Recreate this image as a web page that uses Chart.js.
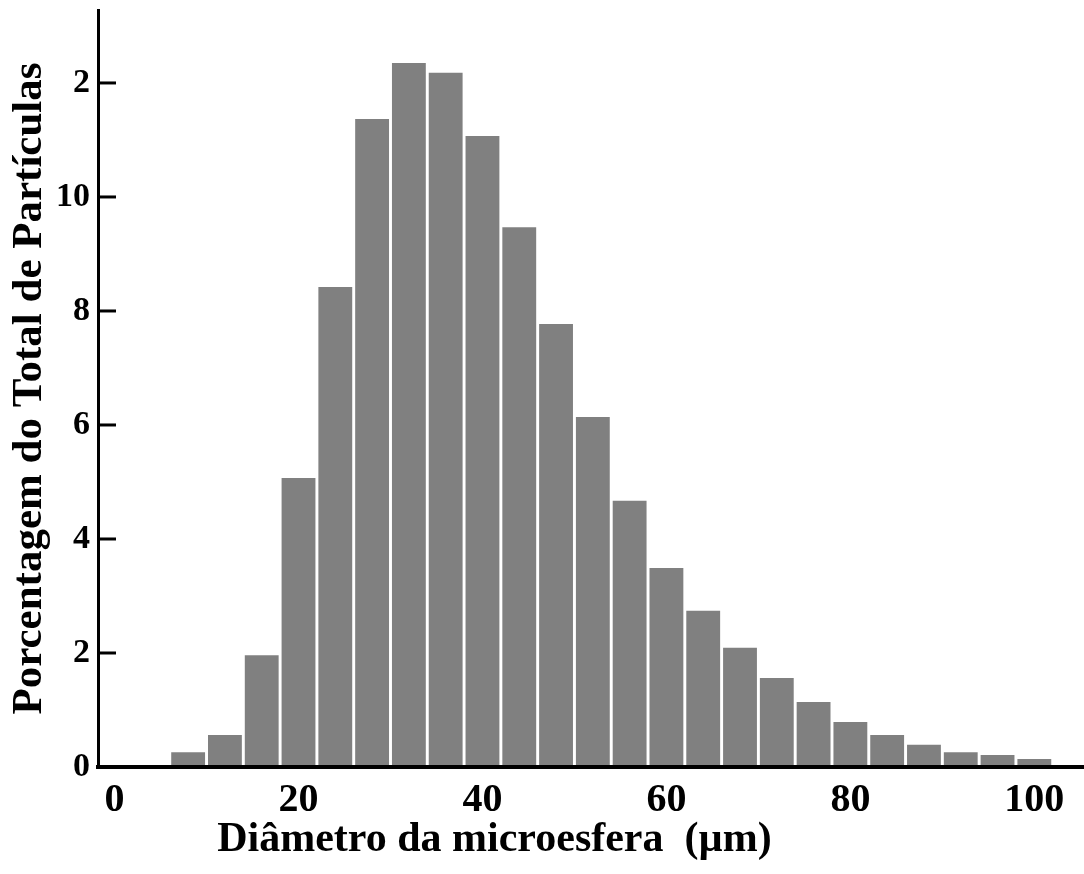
<!DOCTYPE html>
<html>
<head>
<meta charset="utf-8">
<script src="https://cdn.jsdelivr.net/npm/chart.js@4/dist/chart.umd.min.js"></script>
<style>
  body { margin: 0; background: #fff; }
  canvas { display: block; }
</style>
</head>
<body>
<canvas id="myChart" width="1084" height="874"></canvas>
<script>
// bin centres (µm) and percentage of particles
let diameters = [8, 12, 16, 20, 24, 28, 32, 36, 40, 44, 48, 52, 56, 60, 64, 68, 72, 76, 80, 84, 88, 92, 96, 100];
let percents = [0.26, 0.56, 1.96, 5.07, 8.42, 11.37, 12.35, 12.18, 11.07, 9.47, 7.77, 6.14, 4.67, 3.49, 2.74, 2.09, 1.56, 1.14, 0.79, 0.56, 0.39, 0.26, 0.21, 0.14];
let xTicks = [0, 20, 40, 60, 80, 100];
let yTicks = [0, 2, 4, 6, 8, 10, 12];
let yTickLabels = ['0', '2', '4', '6', '8', '10', '2'];
let xTitle = 'Diâmetro da microesfera  (µm)';
let yTitle = 'Porcentagem do Total de Partículas';

const serif = "'Liberation Serif', 'Times New Roman', serif";

// inward tick marks on the y axis + x axis title
const extras = {
    id: 'extras',
    afterDraw(chart) {
        let ctx = chart.ctx;
        let y = chart.scales.y;
        let x = chart.scales.x;
        ctx.save();
        ctx.strokeStyle = '#000';
        ctx.lineWidth = 3;
        y.ticks.forEach(t => {
            if (t.value === 0) return;
            let py = y.getPixelForValue(t.value);
            ctx.beginPath();
            ctx.moveTo(chart.chartArea.left, py);
            ctx.lineTo(chart.chartArea.left + 18, py);
            ctx.stroke();
        });
        ctx.fillStyle = '#000';
        ctx.font = 'bold 42px ' + serif;
        ctx.textAlign = 'center';
        ctx.textBaseline = 'alphabetic';
        ctx.fillText(xTitle, x.getPixelForValue(41.3), 851);
        ctx.restore();
    }
};

function noPad(s) {
    s.paddingTop = 0;
    s.paddingBottom = 0;
    s.paddingLeft = 0;
    s.paddingRight = 0;
}

let ctx = document.querySelector('#myChart').getContext('2d');
let myChart = new Chart(ctx, {
    type: 'bar',
    data: {
        datasets: [{
            data: diameters.map((d, i) => ({ x: d, y: percents[i] })),
            backgroundColor: '#808080',
            borderWidth: 0,
            barPercentage: 1,
            categoryPercentage: 0.92
        }]
    },
    options: {
        responsive: false,
        animation: false,
        layout: { padding: { top: 10, right: 0, left: 0, bottom: 0 } },
        plugins: {
            legend: { display: false },
            tooltip: { enabled: false }
        },
        scales: {
            x: {
                type: 'linear',
                offset: false,
                min: -1.8,
                max: 105.4,
                afterBuildTicks: s => { s.ticks = xTicks.map(v => ({ value: v })); },
                afterFit: s => { s.height = 107; noPad(s); },
                grid: { display: false, drawTicks: false },
                border: { display: true, color: '#000', width: 4, z: 1 },
                ticks: {
                    color: '#000',
                    padding: 10,
                    maxRotation: 0,
                    font: { family: serif, size: 40, weight: 'bold' }
                }
            },
            y: {
                min: 0,
                max: 13.28,
                afterBuildTicks: s => { s.ticks = yTicks.map(v => ({ value: v })); },
                afterFit: s => { s.width = 98; noPad(s); },
                grid: { display: false, drawTicks: false },
                border: { display: true, color: '#000', width: 3, z: 1 },
                ticks: {
                    color: '#000',
                    padding: 8,
                    font: { family: serif, size: 34, weight: 'bold' },
                    callback: (v) => yTickLabels[yTicks.indexOf(v)]
                },
                title: {
                    display: true,
                    text: yTitle,
                    color: '#000',
                    padding: { top: 4, bottom: 0 },
                    font: { family: serif, size: 43, weight: 'bold' }
                }
            }
        }
    },
    plugins: [extras]
});
</script>
</body>
</html>
